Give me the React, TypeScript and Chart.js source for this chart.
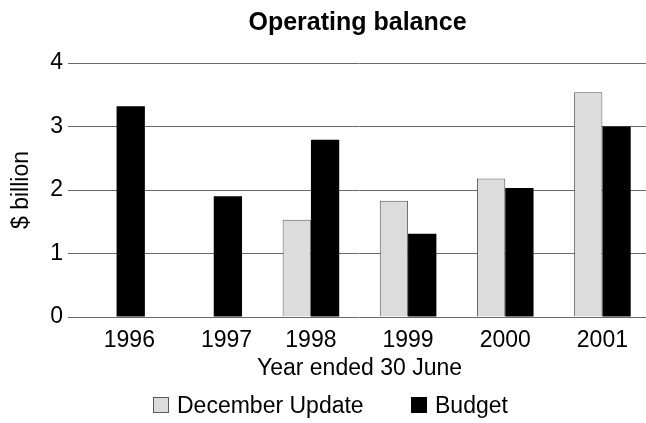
import React, { useEffect, useRef } from "react";
import { Chart, registerables } from "chart.js";

Chart.register(...registerables);

// Operating balance, $ billion, by year ended 30 June
const years = ["1996", "1997", "1998", "1999", "2000", "2001"];
const decemberUpdate: (number | null)[] = [null, null, 1.53, 1.83, 2.18, 3.54];
const budget: number[] = [3.32, 1.9, 2.79, 1.31, 2.03, 3.0];
const yTicks = [0, 1, 2, 3, 4];

const chartTitle = "Operating balance";
const xTitle = "Year ended 30 June";
const yTitle = "$ billion";
const seriesNames = ["December Update", "Budget"];

const FONT = '"Liberation Sans", Arial, Helvetica, sans-serif';
const TEXT_SIZE = 23;
const LIGHT = "#dcdcdc";
const EDGE = "#5a5a5a";
const DARK = "#000000";
const GRID = "#6a6a6a";

// Years with only a Budget figure get their label pushed under that single bar
const SINGLE_BAR_LEAD = "    ";

// Title centred over the plot area rather than the whole canvas
const titlePlugin = {
  id: "plotTitle",
  afterDraw(chart: Chart) {
    const { ctx, chartArea } = chart;
    ctx.save();
    ctx.font = `bold 25px ${FONT}`;
    ctx.fillStyle = "#000";
    ctx.textAlign = "center";
    ctx.textBaseline = "alphabetic";
    ctx.fillText(chartTitle, (chartArea.left + chartArea.right) / 2 - 2, 30);
    ctx.restore();
  },
};

function LegendItem({ left, fill, label }: { left: number; fill: string; label: string }) {
  return (
    <div
      style={{
        position: "absolute",
        left,
        top: 393.5,
        height: 23,
        display: "flex",
        alignItems: "center",
        gap: 8,
        whiteSpace: "nowrap",
      }}
    >
      <span
        style={{
          display: "inline-block",
          width: 16,
          height: 16,
          boxSizing: "border-box",
          background: fill,
          border: `1px solid ${fill === DARK ? DARK : EDGE}`,
        }}
      />
      <span style={{ fontFamily: FONT, fontSize: TEXT_SIZE, lineHeight: `${TEXT_SIZE}px`, color: "#000" }}>
        {label}
      </span>
    </div>
  );
}

export default function App() {
  const canvasRef = useRef<HTMLCanvasElement | null>(null);

  useEffect(() => {
    const canvas = canvasRef.current;
    if (!canvas) return;

    const chart = new Chart(canvas, {
      type: "bar",
      data: {
        labels: years,
        datasets: [
          {
            label: seriesNames[0],
            data: decemberUpdate,
            backgroundColor: LIGHT,
            borderColor: EDGE,
            borderWidth: 1,
            categoryPercentage: 0.5825,
            barPercentage: 1,
          },
          {
            label: seriesNames[1],
            data: budget,
            backgroundColor: DARK,
            borderWidth: 0,
            categoryPercentage: 0.5825,
            barPercentage: 1,
          },
        ],
      },
      options: {
        responsive: false,
        animation: false,
        devicePixelRatio: 1,
        layout: { padding: { top: 63, right: 0, bottom: 48.6, left: 0 } },
        plugins: {
          legend: { display: false },
          title: { display: false },
          tooltip: { enabled: false },
        },
        scales: {
          x: {
            grid: { display: false, drawTicks: false },
            border: { display: false },
            ticks: {
              color: "#000",
              font: { size: TEXT_SIZE, family: FONT },
              padding: 9.5,
              maxRotation: 0,
              callback: (_value: any, index: number) =>
                decemberUpdate[index] == null ? SINGLE_BAR_LEAD + years[index] : years[index],
            },
            title: {
              display: true,
              text: xTitle,
              color: "#000",
              font: { size: TEXT_SIZE, family: FONT, lineHeight: 10.8 / TEXT_SIZE },
              padding: 0,
            },
          },
          y: {
            min: 0,
            max: 4,
            afterBuildTicks: (scale: any) => {
              scale.ticks = yTicks.map((v) => ({ value: v }));
            },
            grid: { color: GRID, lineWidth: 1, drawTicks: false },
            border: { display: false },
            ticks: {
              color: "#000",
              font: { size: TEXT_SIZE, family: FONT },
              padding: 5,
            },
            title: {
              display: true,
              text: yTitle,
              color: "#000",
              font: { size: TEXT_SIZE, family: FONT },
              padding: { top: 8.2, bottom: 9.4 },
            },
          },
        },
      },
      plugins: [titlePlugin],
    });

    return () => chart.destroy();
  }, []);

  return (
    <div
      style={{
        position: "fixed",
        left: 0,
        top: 0,
        width: 646,
        height: 423,
        overflow: "hidden",
        background: "#fff",
      }}
    >
      <canvas ref={canvasRef} width={651} height={423} style={{ display: "block" }} />
      <LegendItem left={153} fill={LIGHT} label={seriesNames[0]} />
      <LegendItem left={411} fill={DARK} label={seriesNames[1]} />
    </div>
  );
}
